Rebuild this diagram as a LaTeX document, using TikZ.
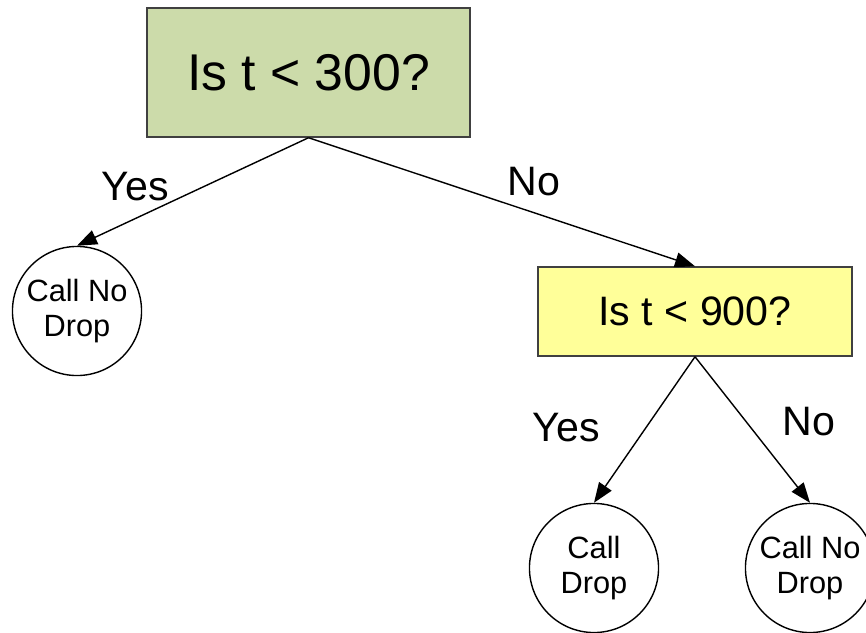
\documentclass[tikz,border=0pt]{standalone}
\usepackage{fontspec}
\setmainfont{Liberation Sans}
\usetikzlibrary{arrows.meta}
\definecolor{boxgreen}{RGB}{204,219,170}
\definecolor{boxyellow}{RGB}{255,255,153}

\begin{document}
\begin{tikzpicture}[x=0.01cm, y=-0.01cm, line width=0.4pt,
  test/.style={draw=black!75, rectangle, inner sep=0pt},
  leaf/.style={draw, circle, minimum size=1.29cm, inner sep=0pt, align=center,
    font=\fontsize{8.75}{10.2}\selectfont},
  edge/.style={-{Triangle[length=0.2cm, width=0.15cm]}},
  answer/.style={font=\fontsize{11.7}{13}\selectfont}]
  \useasboundingbox (0,0) rectangle (866,633);
  % tests
  \node[test, fill=boxgreen, minimum width=3.23cm, minimum height=1.29cm,
    font=\fontsize{14.7}{17}\selectfont] (t300) at (308.5,72.5) {Is t < 300?};
  \node[test, fill=boxyellow, minimum width=3.14cm, minimum height=0.89cm,
    font=\fontsize{11.7}{14}\selectfont] (t900) at (695,311.5) {Is t < 900?};
  % leaves
  \node[leaf] (nodrop1) at (77,311) {Call No\\Drop};
  \node[leaf] (drop) at (594,568) {Call\\Drop};
  \node[leaf] (nodrop2) at (810,568) {Call No\\Drop};
  % branches
  \draw[edge] (t300.south) -- (nodrop1.north);
  \draw[edge] (t300.south) -- (t900.north);
  \draw[edge] (t900.south) -- (drop.north);
  \draw[edge] (t900.south) -- (nodrop2.north);
  % answers
  \node[answer] (yes1) at (135,187) {Yes};
  \node[answer] (no1) at (534,182) {No};
  \node[answer] (yes2) at (566,428) {Yes};
  \node[answer] (no2) at (809,422) {No};
\end{tikzpicture}
\end{document}
